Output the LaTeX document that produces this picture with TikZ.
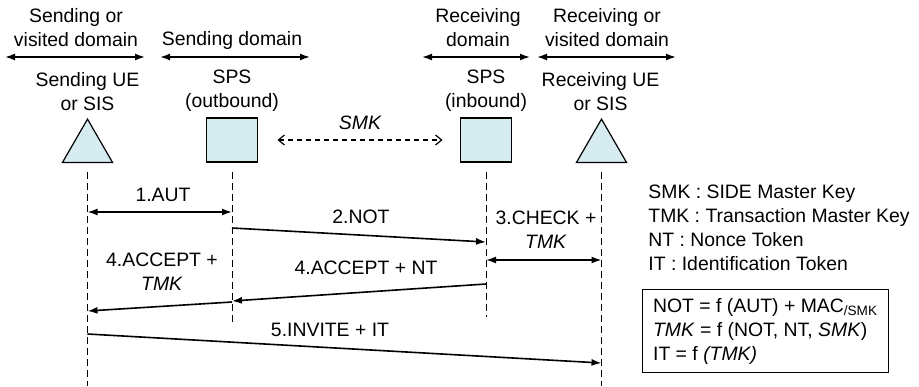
\documentclass[tikz,border=0pt]{standalone}
\usepackage{fontspec}
\setmainfont{Liberation Sans}
\usetikzlibrary{calc,shapes.geometric,arrows.meta}
\definecolor{entityfill}{RGB}{214,236,241}

\begin{document}
\begin{tikzpicture}[x=0.5pt,y=-0.5pt,font=\fontsize{9.7}{12}\selectfont,
  ue/.style={draw,line width=0.6pt,fill=entityfill,regular polygon,regular polygon sides=3,minimum size=28.9pt,inner sep=0pt,outer sep=0pt},
  server/.style={draw,line width=0.6pt,fill=entityfill,minimum width=25.5pt,minimum height=22pt,inner sep=0pt,outer sep=0pt},
  caption/.style={align=center,inner sep=0pt},
  lifeline/.style={dash pattern=on 3.5pt off 2pt,line width=0.5pt,shorten <=5pt},
  domainarrow/.style={{Latex[length=5pt,width=3.5pt]}-{Latex[length=5pt,width=3.5pt]},line width=0.8pt},
  msg/.style={-{Latex[length=5pt,width=3.5pt]},line width=0.8pt},
  both/.style={{Latex[length=5pt,width=3.5pt]}-{Latex[length=5pt,width=3.5pt]},line width=0.8pt},
  keylink/.style={{Straight Barb[length=3pt,width=5pt]}-{Straight Barb[length=3pt,width=5pt]},dash pattern=on 2.5pt off 2pt,line width=0.6pt,shorten <=10pt,shorten >=9pt}]
  \useasboundingbox (0,0) rectangle (919,386);

  % domains
  \node[caption] (sv dom) at (76,28) {Sending or\\visited domain};
  \node[caption] (s dom) at (232,40) {Sending domain};
  \node[caption] (r dom) at (478,28) {Receiving\\domain};
  \node[caption] (rv dom) at (607,28) {Receiving or\\visited domain};
  \coordinate (sv l) at (5,57);   \coordinate (sv r) at (145,57);
  \coordinate (s l) at (160,57);  \coordinate (s r) at (310,57);
  \coordinate (r l) at (422,57);  \coordinate (r r) at (530,57);
  \coordinate (rv l) at (537,57); \coordinate (rv r) at (676,57);
  \draw[domainarrow] (sv l) -- (sv r);
  \draw[domainarrow] (s l) -- (s r);
  \draw[domainarrow] (r l) -- (r r);
  \draw[domainarrow] (rv l) -- (rv r);

  % entities
  \node[ue] (ue1) at (87.5,148) {};
  \node[server] (sps out) at (232,140) {};
  \node[server] (sps in) at (486,140) {};
  \node[ue] (ue2) at (601.5,148) {};
  \node[caption] (ue1 name) at ($ (ue1.north) + (0,-28) $) {Sending UE\\or SIS};
  \node[caption] (sps out name) at ($ (sps out.north) + (0,-27) $) {SPS\\(outbound)};
  \node[caption] (sps in name) at ($ (sps in.north) + (0,-27) $) {SPS\\(inbound)};
  \node[caption] (ue2 name) at ($ (ue2.north) + (-1,-28) $) {Receiving UE\\or SIS};

  \draw[keylink] (sps out) -- (sps in);
  \node[caption,font=\fontsize{9.7}{12}\selectfont\itshape] (smk) at (360,123) {SMK};

  % lifelines
  \coordinate (ue1 end) at (ue1.south |- 0,386);
  \coordinate (sps out end) at (sps out.south |- 0,323);
  \coordinate (sps in end) at (sps in.south |- 0,317);
  \coordinate (ue2 end) at (ue2.south |- 0,386);
  \draw[lifeline] (ue1.south) -- (ue1 end);
  \draw[lifeline] (sps out.south) -- (sps out end);
  \draw[lifeline] (sps in.south) -- (sps in end);
  \draw[lifeline] (ue2.south) -- (ue2 end);

  % messages
  \coordinate (aut a) at (ue1 |- 0,212);     \coordinate (aut b) at (sps out |- 0,212);
  \coordinate (not a) at (sps out |- 0,228); \coordinate (not b) at (sps in |- 0,242);
  \coordinate (chk a) at (sps in |- 0,260);  \coordinate (chk b) at (ue2 |- 0,260);
  \coordinate (acc a) at (sps in |- 0,284);  \coordinate (acc b) at (sps out |- 0,301);
  \coordinate (acc c) at (sps out |- 0,302); \coordinate (acc d) at (ue1 |- 0,311);
  \coordinate (inv a) at (ue1 |- 0,334);     \coordinate (inv b) at (ue2 |- 0,363);
  \draw[both] (aut a) -- (aut b);
  \draw[msg] (not a) -- (not b);
  \draw[both] (chk a) -- (chk b);
  \draw[msg] (acc a) -- (acc b);
  \draw[msg] (acc c) -- (acc d);
  \draw[msg] (inv a) -- (inv b);

  \node[caption] (aut) at (163,195) {1.AUT};
  \node[caption] (not) at (361,217) {2.NOT};
  \node[caption] (chk) at (546,230) {3.CHECK +\\\textit{TMK}};
  \node[caption] (acc nt) at (366,268) {4.ACCEPT + NT};
  \node[caption] (acc tmk) at (162,272) {4.ACCEPT +\\\textit{TMK}};
  \node[caption] (inv) at (330,330) {5.INVITE + IT};

  % key
  \node[anchor=west,align=left,inner sep=0pt] (legend) at (648,228)
    {SMK : SIDE Master Key\\TMK : Transaction Master Key\\NT : Nonce Token\\IT : Identification Token};
  \node[draw,line width=0.6pt,anchor=north west,minimum width=123pt,minimum height=41.5pt,
        align=left,inner xsep=2pt] (defs) at (642,289)
    {NOT = f (AUT) + MAC\textsubscript{/SMK}\\\textit{TMK} = f (NOT, NT, \textit{SMK})\\IT = f \textit{(TMK)}};
\end{tikzpicture}
\end{document}
